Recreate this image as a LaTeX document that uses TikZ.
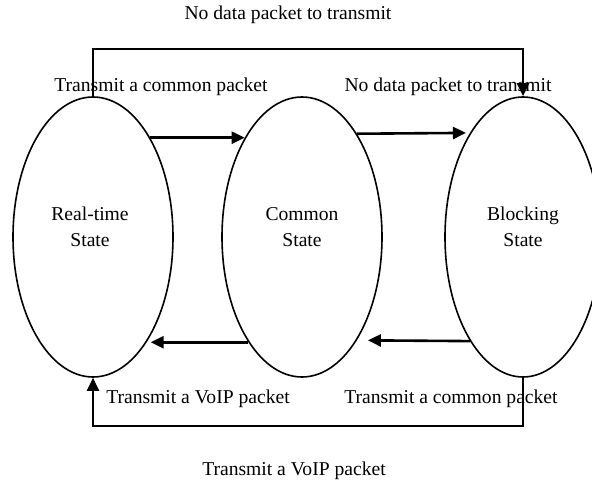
\documentclass[tikz,border=0pt]{standalone}
\usepackage{fontspec}
\setmainfont{Liberation Serif}
\usetikzlibrary{shapes.geometric,arrows.meta}
\begin{document}
\begin{tikzpicture}[x=1pt,y=-1pt,
  state/.style={draw,ellipse,line width=1.6pt,minimum height=280pt,inner sep=0pt},
  stxt/.style={align=center,font=\fontsize{19.6}{26}\selectfont,inner sep=0pt},
  lbl/.style={font=\fontsize{19.6}{24}\selectfont,inner sep=0pt,anchor=base},
  arr/.style={line width=2.6pt,-{Triangle[length=13pt,width=12pt]}},
  loopline/.style={line width=2.6pt}]
\useasboundingbox (0,0) rectangle (592,484);
% labels
\node[lbl] (l1) at (288,20) {No data packet to transmit};
\node[lbl] (l2) at (161,92) {Transmit a common packet};
\node[lbl] (l3) at (448,92) {No data packet to transmit};
\node[lbl] (l4) at (198,403) {Transmit a VoIP packet};
\node[lbl] (l5) at (451,403) {Transmit a common packet};
\node[lbl] (l6) at (294,475) {Transmit a VoIP packet};
% states
\node[state,minimum width=160pt] (a) at (93,237) {};
\node[state,minimum width=160pt] (b) at (302,237) {};
\node[state,minimum width=156pt] (c) at (523,237) {};
\node[stxt] (ta) at (90,227) {Real-time\\State};
\node[stxt] (tb) at (302,227) {Common\\State};
\node[stxt] (tc) at (523,227) {Blocking\\State};
% coordinates for loops
\coordinate (topy) at (0,49);
\coordinate (boty) at (0,426);
% arrows
\draw[arr] (a.60) -- (b.120);
\draw[arr,shorten >=4pt] (b.62) -- (c.117);
\draw[arr,shorten >=4pt] (b.-117) -- (a.-63);
\draw[arr,shorten >=11pt] (c.-117) -- (b.-62);
\draw[arr] (a.north) -- (a.north |- topy) -| (c.north);
\draw[arr] (c.south) -- (c.south |- boty) -| (a.south);
\end{tikzpicture}
\end{document}
